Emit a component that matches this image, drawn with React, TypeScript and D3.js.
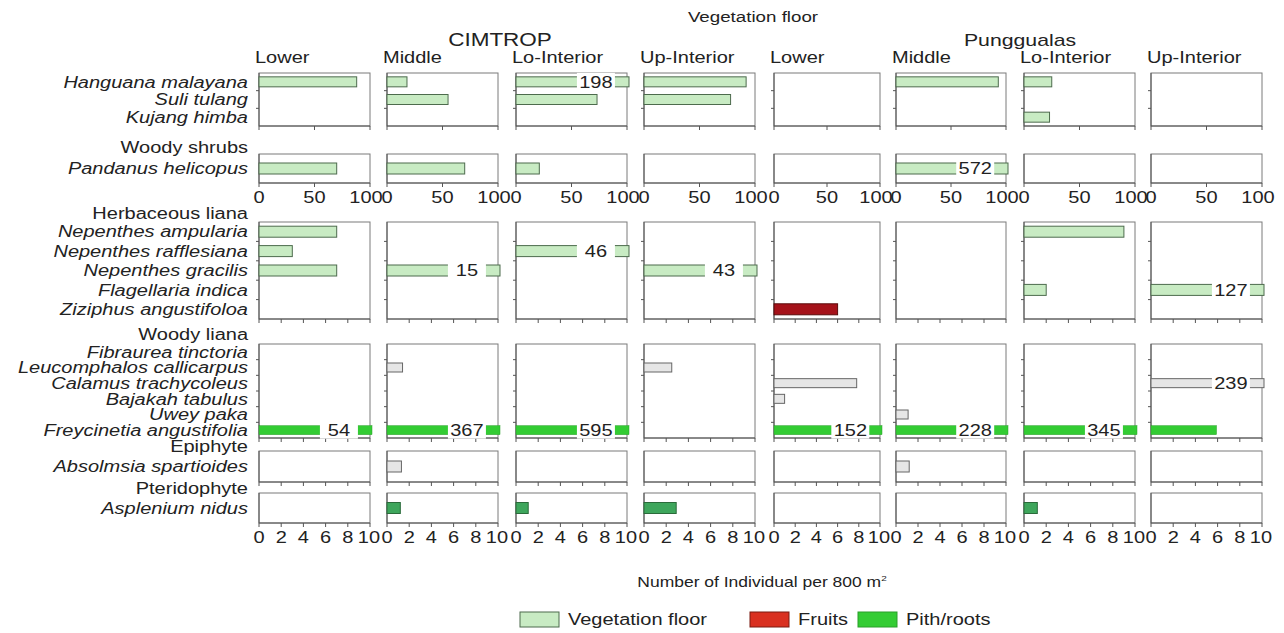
import * as d3 from "d3";

const sites = ["CIMTROP", "Punggualas"];
const floors = ["Lower", "Middle", "Lo-Interior", "Up-Interior"];

// values per species row, one entry per panel: CIMTROP x4 then Punggualas x4
const vegFloorSpecies = ["Hanguana malayana", "Suli tulang", "Kujang himba"];
const vegFloorValues = [
  [88, 18, 198, 92, 0, 93, 25, 0],
  [0, 55, 73, 78, 0, 0, 0, 0],
  [0, 0, 0, 0, 0, 0, 23, 0],
];
const vegFloorParts = ["floor", "floor", "floor"];

const shrubSpecies = ["Pandanus helicopus"];
const shrubValues = [[70, 70, 21, 0, 0, 572, 0, 0]];
const shrubParts = ["floor"];

const herbLianaSpecies = [
  "Nepenthes ampularia",
  "Nepenthes rafflesiana",
  "Nepenthes gracilis",
  "Flagellaria indica",
  "Ziziphus angustifoloa",
];
const herbLianaValues = [
  [7, 0, 0, 0, 0, 0, 9, 0],
  [3, 0, 46, 0, 0, 0, 0, 0],
  [7, 15, 0, 43, 0, 0, 0, 0],
  [0, 0, 0, 0, 0, 0, 2, 127],
  [0, 0, 0, 0, 6, 0, 0, 0],
];
const herbLianaParts = ["floor", "floor", "floor", "floor", "fruits"];

const woodyLianaSpecies = [
  "Fibraurea tinctoria",
  "Leucomphalos callicarpus",
  "Calamus trachycoleus",
  "Bajakah tabulus",
  "Uwey paka",
  "Freycinetia angustifolia",
];
const woodyLianaValues = [
  [0, 0, 0, 0, 0, 0, 0, 0],
  [0, 1.4, 0, 2.5, 0, 0, 0, 0],
  [0, 0, 0, 0, 7.8, 0, 0, 239],
  [0, 0, 0, 0, 1, 0, 0, 0],
  [0, 0, 0, 0, 0, 1.1, 0, 0],
  [54, 367, 595, 0, 152, 228, 345, 5.9],
];
const woodyLianaParts = ["other", "other", "other", "other", "other", "pith"];

const epiphyteSpecies = ["Absolmsia spartioides"];
const epiphyteValues = [[0, 1.3, 0, 0, 0, 1.2, 0, 0]];
const epiphyteParts = ["other"];

const fernSpecies = ["Asplenium nidus"];
const fernValues = [[0, 1.2, 1.1, 2.9, 0, 0, 1.2, 0]];
const fernParts = ["fern"];

const legendItems = ["Vegetation floor", "Fruits", "Pith/roots"];

const W = 1284, H = 633;
const FONT = "'Liberation Sans', Arial, sans-serif";
const SX = 1.25; // the figure's lettering is stretched sideways

const colLeft = [259, 387, 516, 644, 774, 896, 1024, 1151];
const colW = [111, 111, 111, 111, 106, 110, 111, 111];

const fills = {floor: "#c8ebc3", fruits: "#a5121a", pith: "#33cc33", other: "#e6e6e6", fern: "#3ea65c"};
const strokes = {floor: "#4d6b4d", fruits: "#5a0a0a", pith: "#2a9e2a", other: "#666", fern: "#2b6b3b"};

const blocks = [
  {label: null, species: vegFloorSpecies, values: vegFloorValues, parts: vegFloorParts, y0: 73, y1: 126, max: 100, step: 50, labels: false, barH: 10, gap: 0, endShift: 4},
  {label: "Woody shrubs", species: shrubSpecies, values: shrubValues, parts: shrubParts, y0: 154, y1: 183, max: 100, step: 50, labels: true, barH: 11, gap: 7, endShift: 4},
  {label: "Herbaceous liana", species: herbLianaSpecies, values: herbLianaValues, parts: herbLianaParts, y0: 222, y1: 319, max: 10, step: 2, labels: false, barH: 11, gap: 9, endShift: 1},
  {label: "Woody liana", species: woodyLianaSpecies, values: woodyLianaValues, parts: woodyLianaParts, y0: 344, y1: 438, max: 10, step: 2, labels: false, barH: 9, gap: 10, endShift: 1},
  {label: "Epiphyte", species: epiphyteSpecies, values: epiphyteValues, parts: epiphyteParts, y0: 451, y1: 482, max: 10, step: 2, labels: false, barH: 11, gap: 5, endShift: 1},
  {label: "Pteridophyte", species: fernSpecies, values: fernValues, parts: fernParts, y0: 493, y1: 523, max: 10, step: 2, labels: true, barH: 11, gap: 5, endShift: 1},
];

const T = ({x, y, size, anchor = "start", italic = false, children}) => (
  <text transform={`translate(${x},${y}) scale(${SX},1)`} dy="0.36em" textAnchor={anchor}
        fontSize={size} fontStyle={italic ? "italic" : "normal"} fill="#222">{children}</text>
);

const Panel = ({b, ci}) => {
  const x0 = colLeft[ci], w = colW[ci];
  const x = d3.scaleLinear().domain([0, b.max]).range([x0, x0 + w]);
  const y = d3.scaleBand().domain(b.species).range([b.y0, b.y1]);
  const ticks = d3.range(0, b.max + 0.001, b.step);
  return (
    <g>
      <rect x={x0} y={b.y0} width={w} height={b.y1 - b.y0} fill="#fff" stroke="#7a7a7a" strokeWidth={1}/>
      <line x1={x0} x2={x0} y1={b.y0} y2={b.y1} stroke="#555"/>
      <line x1={x0} x2={x0 + w} y1={b.y1} y2={b.y1} stroke="#555"/>
      {b.species.slice(1).map(s => (
        <line key={s} x1={x0 - 3} x2={x0} y1={y(s)} y2={y(s)} stroke="#555"/>
      ))}
      {ticks.map(t => (
        <line key={t} x1={x(t)} x2={x(t)} y1={b.y1} y2={b.y1 + 4} stroke="#555"/>
      ))}
      {b.species.map((s, si) => {
        const v = b.values[si][ci];
        if (!v) return null;
        const part = b.parts[si];
        const cy = y(s) + y.bandwidth() / 2;
        const broken = v > b.max;
        const xEnd = broken ? x0 + w + 2 : x(v);
        const lx = x0 + w * 0.72;
        return (
          <g key={s}>
            <rect x={x0} y={cy - b.barH / 2} width={xEnd - x0} height={b.barH}
                  fill={fills[part]} stroke={strokes[part]} strokeWidth={part === "pith" ? 0.5 : 1}/>
            {broken && (
              <g>
                <rect x={lx - 19} y={cy - b.barH / 2 - 4} width={38} height={b.barH + 8} fill="#fff"/>
                <T x={lx} y={cy} size={16} anchor="middle">{v}</T>
              </g>
            )}
          </g>
        );
      })}
      {b.labels && ticks.map((t, i) => (
        <T key={t} x={x(t) - (i === ticks.length - 1 ? b.endShift : 0)} y={b.y1 + 14} size={16} anchor="middle">{t}</T>
      ))}
    </g>
  );
};

const App = () => {
  const cols = d3.range(8);
  const legendX = [520, 750, 858];
  const legendParts = ["floor", "legendRed", "pith"];
  return (
    <svg width={W} height={H} style={{position: "absolute", left: 0, top: 0, background: "#fff"}} fontFamily={FONT}>
      <T x={753} y={17} size={15} anchor="middle">Vegetation floor</T>
      <T x={500} y={40} size={18} anchor="middle">{sites[0]}</T>
      <T x={1020} y={40} size={17} anchor="middle">{sites[1]}</T>
      {cols.map(ci => (
        <T key={ci} x={colLeft[ci] - 4} y={57} size={16}>{floors[ci % 4]}</T>
      ))}
      {blocks.map((b, bi) => {
        const y = d3.scaleBand().domain(b.species).range([b.y0, b.y1]);
        return (
          <g key={bi}>
            {b.label && <T x={248} y={b.y0 - b.gap} size={16} anchor="end">{b.label}</T>}
            {b.species.map(s => (
              <T key={s} x={248} y={y(s) + y.bandwidth() / 2} size={16} anchor="end" italic>{s}</T>
            ))}
            {cols.map(ci => <Panel key={ci} b={b} ci={ci}/>)}
          </g>
        );
      })}
      <T x={762} y={582} size={14} anchor="middle">
        Number of Individual per 800 m<tspan dy="-6" fontSize={8}>2</tspan>
      </T>
      {legendItems.map((item, i) => (
        <g key={item}>
          <rect x={legendX[i]} y={612} width={39} height={15}
                fill={i === 1 ? "#d93020" : fills[legendParts[i]]}
                stroke={i === 1 ? "#7a1a10" : strokes[legendParts[i]]}/>
          <T x={legendX[i] + 48} y={619.5} size={16}>{item}</T>
        </g>
      ))}
    </svg>
  );
};

export default App;
